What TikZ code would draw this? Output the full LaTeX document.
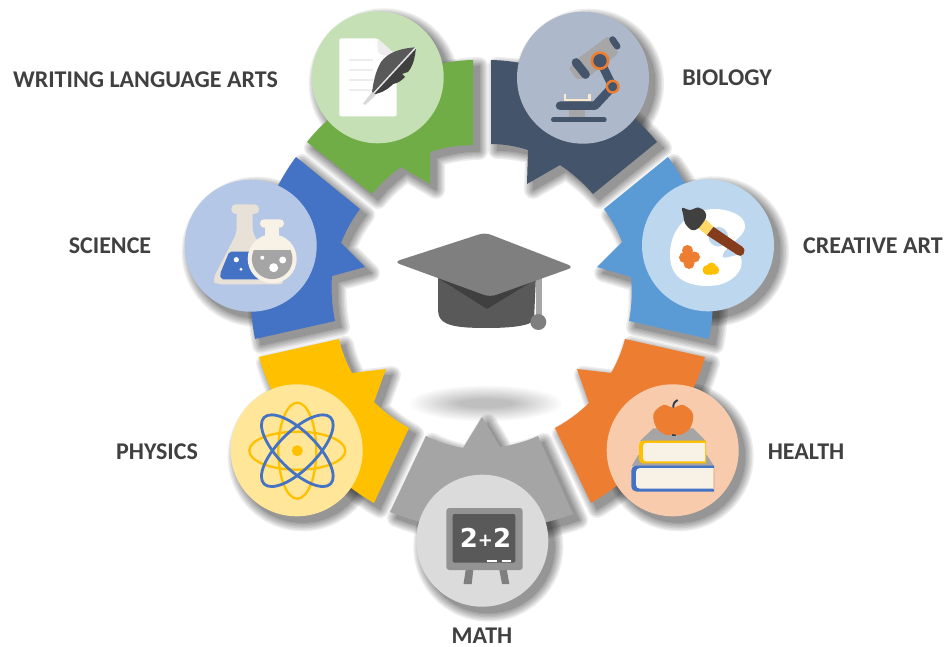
\documentclass[tikz,border=0pt]{standalone}
\usepackage{fontspec}
\setmainfont{Carlito}
\newfontfamily\chalk{DejaVu Sans}
\definecolor{cGreen}{HTML}{70AD47}\definecolor{lGreen}{HTML}{C5E0B4}
\definecolor{cNavy}{HTML}{44546A}\definecolor{lNavy}{HTML}{ADB9CA}
\definecolor{cBlue}{HTML}{4472C4}\definecolor{lBlue}{HTML}{B4C7E7}
\definecolor{cSky}{HTML}{5B9BD5}\definecolor{lSky}{HTML}{BDD7EE}
\definecolor{cOrange}{HTML}{ED7D31}\definecolor{lOrange}{HTML}{F8CBAD}
\definecolor{cGrey}{HTML}{A5A5A5}\definecolor{lGrey}{HTML}{DBDBDB}
\definecolor{cGold}{HTML}{FFC000}\definecolor{lGold}{HTML}{FFE699}
\definecolor{cream}{HTML}{F7F1E6}\definecolor{flask}{HTML}{E7E1D7}
\definecolor{labelc}{HTML}{404040}
\definecolor{g59}{HTML}{595959}\definecolor{g40}{HTML}{404040}
\definecolor{gA6}{HTML}{A6A6A6}\definecolor{g7F}{HTML}{7F7F7F}
\definecolor{gED}{HTML}{EDEDED}\definecolor{gE7}{HTML}{E7E6E6}
\definecolor{gD9}{HTML}{D9D9D9}\definecolor{g93}{HTML}{939393}
\definecolor{slide}{HTML}{FBE9CF}\definecolor{brownh}{HTML}{843C1C}
\definecolor{ferrule}{HTML}{FFD966}\definecolor{stem}{HTML}{333F50}
\tikzset{
  lab/.style={font=\fontsize{24}{26}\bfseries\selectfont,text=labelc,inner sep=0pt},
  bl/.style={bend left=#1,looseness=.85},
  br/.style={bend right=#1,looseness=.85}
}
\newcommand\softshadow[1]{\foreach \w in {18,15,12,9,6,3,0}{%
  \begin{scope}[transparency group,opacity=.07,shift={(6,6)}]
  \path[fill=black,draw=black,line width=\w pt,line join=round] #1;
  \end{scope}}}
\newcommand\segm[2]{\softshadow{#2}\fill[#1] #2;}
\def\pGreen{(473,60) to[br=25] (307,142) -- (372,194) to[bl=8] (401,167) -- (430,184) -- (430,152) to[bl=9] (473,145) -- cycle}
\def\pNavy{(491,60) to[bl=25] (657,142) -- (593,194) to[br=8] (560,165) -- (527,184) -- (528,150) to[br=9] (491,144) -- cycle}
\def\pBlue{(296,157) to[br=24] (255,339) -- (335,321) to[bl=8] (332,276) -- (365,267) -- (341,243) to[bl=8] (360,209) -- cycle}
\def\pSky{(668,157) -- (604,209) to[bl=8] (622,242) -- (597,267) -- (631,277) to[bl=8] (629,321) -- (709,339) to[br=24] (668,157) -- cycle}
\def\pOrange{(625,339) -- (705,357) to[bl=22] (591,503) -- (555,428) to[br=8] (589,403) -- (577,369) -- (611,373) to[br=8] (625,339) -- cycle}
\def\pGrey{(482,417) -- (500,447) to[br=8] (538,436) -- (573,514) to[bl=21] (390,512) -- (426,436) to[br=8] (463,448) -- cycle}
\def\pGold{(339,339) to[br=8] (352,373) -- (386,369) -- (374,402) to[br=8] (409,428) -- (374,503) to[bl=22] (259,357) -- cycle}
\begin{document}
\begin{tikzpicture}[x=1pt,y=-1pt]
\useasboundingbox (0,0) rectangle (946,647);
\fill[white] (0,0) rectangle (946,647);
% circle shadows lie beneath the segments
\softshadow{(377.7,77.3) circle[radius=66]}
\softshadow{(583,77.7) circle[radius=66]}
\softshadow{(250.7,245.7) circle[radius=66]}
\softshadow{(708,245.3) circle[radius=66]}
\softshadow{(672.7,450.3) circle[radius=66]}
\softshadow{(482.3,540.7) circle[radius=66]}
\softshadow{(296.7,450.3) circle[radius=66]}
% hat shadow
\foreach \i in {0,...,15}{
  \fill[black,opacity=.016] (486,403.5) ellipse[x radius={76-\i*3.2},y radius={18-\i*0.9}];
}
% segments
\segm{cGreen}{\pGreen}
\segm{cNavy}{\pNavy}
\segm{cBlue}{\pBlue}
\segm{cSky}{\pSky}
\segm{cOrange}{\pOrange}
\segm{cGrey}{\pGrey}
\segm{cGold}{\pGold}
% discs
\fill[lGreen] (377.7,77.3) circle[radius=66];
\fill[lNavy] (583,77.7) circle[radius=66];
\fill[lBlue] (250.7,245.7) circle[radius=66];
\fill[lSky] (708,245.3) circle[radius=66];
\fill[lOrange] (672.7,450.3) circle[radius=66];
\fill[lGrey] (482.3,540.7) circle[radius=66];
\fill[lGold] (296.7,450.3) circle[radius=66];
% hat
\fill[g59] (438,276) -- (536,276) -- (534,320) .. controls (530,326) and (510,328) .. (487,328) .. controls (465,328) and (445,327) .. (440,318) .. controls (438,315) and (438,310) .. (438,305) -- cycle;
\fill[g40] (438,278) -- (487,309) -- (536,279) -- (536,270) -- (438,270) -- cycle;
\fill[gA6] (536,270) rectangle (541.5,318);
\fill[g7F] (538.3,322) circle[radius=8];
\fill[g7F,rounded corners=6pt] (394,262) -- (485,232.5) -- (574,267) -- (490,297) -- cycle;
% writing icon
\fill[white,rounded corners=2pt] (339.3,38.3) -- (377.3,38.3) -- (396.7,56.7) -- (396.7,116.3) -- (339.3,116.3) -- cycle;
\fill[gED] (377.5,38.3) -- (377.5,50) .. controls (378,54) and (382,55.5) .. (386,55.5) -- (396.7,55.5) -- cycle;
\foreach \y in {60,70,80,90} \draw[gED,line width=2pt] (349.3,\y) -- (373,\y);
\fill[g59] (416,47.3) .. controls (402,48) and (388,52) .. (381,62) .. controls (375,72) and (373,84) .. (371.7,95) -- (376,92) -- (416,47.3);
\fill[g40] (416,47.3) .. controls (415,58) and (413,66) .. (408,72) -- (402,74) -- (405,77) .. controls (401,81) and (398,83) .. (393,84) -- (391,86) .. controls (387,90) and (381,93) .. (371.7,95) -- (373,92) -- cycle;
\draw[gE7,line width=1.5pt] (416,47.3) -- (372,95);
\fill[gD9] (372,92) -- (376,95) -- (365,105) -- (363,103.5) -- cycle;
% microscope
\fill[gA6] (569,99.9) rectangle (585,118);
\draw[slide,line width=2.3pt] (565.3,94) -- (565.3,100) -- (589.5,100) -- (589.5,94);
\fill[gA6,rounded corners=1.5pt] (608.3,36) -- (618.3,53.3) -- (586.7,78.3) -- (576.7,79.3) -- (569,68.3) -- (578.3,58.3) -- cycle;
\draw[cNavy,line width=8.7pt,line cap=round] (576,62.5) -- (585.5,74.5);
\draw[cNavy,line width=6.5pt,line cap=round] (612.5,39.5) -- (617.2,46.3);
\draw[cNavy,line width=8.5pt,line cap=round,line join=round] (600,60.7) -- (612.7,86.7) -- (595,105.7) -- (560,105.7);
\draw[cNavy,line width=5pt,line cap=round] (553.5,119.8) -- (604.2,119.8);
\filldraw[fill=cNavy,draw=cOrange,line width=2.6pt] (600,60.7) circle[radius=8.1];
\filldraw[fill=cNavy,draw=cOrange,line width=2.4pt] (612.7,86.7) circle[radius=5.8];
% flasks
\fill[flask,rounded corners=4.5pt] (231.3,204.3) rectangle (259,214);
\fill[flask,rounded corners=5pt] (236.7,210) -- (252.7,210) -- (252.7,233) -- (285,284.3) -- (216,284.3) -- (212.5,280) -- (236.7,233) -- cycle;
\fill[cBlue,rounded corners=2pt] (229.3,251.7) -- (256,251.7) -- (270,279.3) -- (221,279.3) -- (220,274) -- cycle;
\fill[white] (236.3,259.7) circle[radius=2.6];
\fill[white] (241,269.3) circle[radius=1.6];
\fill[cream,rounded corners=4pt] (260,219.3) rectangle (284,227.7);
\fill[cream] (265,225) rectangle (279,240);
\fill[cream] (272.2,258.8) circle[radius=24.5];
\begin{scope}
\clip (240,251) rectangle (305,290);
\fill[cGrey] (272.2,258.8) circle[radius=20.3];
\end{scope}
\fill[white] (282.7,260) circle[radius=3.5];
\fill[white] (273.7,267.7) circle[radius=4.5];
\fill[white] (262.3,257.7) circle[radius=2];
% palette
\fill[white] (715,209) .. controls (728,209) and (745,215) .. (745,226) .. controls (745,235) and (735,240) .. (730,245) .. controls (726,249) and (722,254) .. (722.5,257) .. controls (723,259) and (733,256) .. (739,254.5) .. controls (742,258) and (742,262) .. (741,267) .. controls (738,276) and (730,281) .. (722,284) .. controls (712,287) and (695,287) .. (684,281) .. controls (673,275) and (670,265) .. (670,255) .. controls (670,235) and (680,222) .. (692,215) .. controls (698,211) and (707,209) .. (715,209) -- cycle;
\fill[lSky] (718.3,236.7) circle[radius=9.8];
\foreach \p/\r in {(687.5,250.5)/5.5,(694.5,257)/5.5,(684.5,257.5)/5.5,(689,263.5)/5.5,(689,257)/6} \fill[cOrange] \p circle[radius=\r];
\foreach \p/\r in {(707.5,270)/5,(711.5,267.5)/5,(714.5,270)/4.7,(711,271)/4} \fill[cGold] \p circle[radius=\r];
\fill[brownh] (713.3,226.7) -- (742,246.5) .. controls (745,248.5) and (745,252) .. (743.5,254) .. controls (742,256) and (739.5,256.5) .. (737.5,255) -- (706.7,235) -- cycle;
\fill[ferrule] (705.7,219.3) -- (713.3,226.7) -- (706.7,235) -- (698.3,228.3) -- cycle;
\fill[g40] plot[smooth cycle,tension=.55] coordinates {(682.3,208) (690,210) (698.3,207.5) (705,211.7) (705.7,218.3) (698.3,228.3) (691.7,230) (685,223.3) (683.3,215)};
% books and apple
\fill[cGrey] (653.3,428.3) -- (693.3,428.3) -- (705.7,441) -- (640,441) -- cycle;
\fill[cGrey] (638.3,455) -- (706.7,455) -- (714,466) -- (631.7,466) -- cycle;
\fill[cGold] (706,440.7) [rounded corners=4pt] -- (639,440.7) -- (639,463.3) [sharp corners] -- (706,463.3) -- cycle;
\fill[cream] (705,443) [rounded corners=3pt] -- (643,443) -- (643,461.3) [sharp corners] -- (705,461.3) -- cycle;
\fill[cBlue] (714,465.5) [rounded corners=5pt] -- (631.3,465.5) -- (631.3,491.5) [sharp corners] -- (714,491.5) -- cycle;
\fill[cream] (712.8,468) [rounded corners=4pt] -- (636,468) -- (636,488.7) [sharp corners] -- (712.8,488.7) -- cycle;
\fill[lOrange] (712.8,468) rectangle (714,488.7);
\draw[stem,line width=2pt] (673.3,409) .. controls (673,404) and (674,402) .. (677.7,400);
\draw[stem,line width=2pt] (672,435.3) -- (675.5,435.3);
\fill[cOrange] plot[smooth cycle,tension=.6] coordinates {(673.3,407.7) (683.3,405) (693,414) (690,428.3) (680,435) (673.3,434) (666.7,435) (656.7,428.3) (653.5,414) (663.3,405)};
% chalkboard
\fill[g7F] (466,568) -- (473.5,568) -- (471.7,584) -- (463.5,584) -- cycle;
\fill[g7F] (499,568) -- (506.5,568) -- (509.3,584) -- (502,584) -- cycle;
\fill[g93,rounded corners=3pt] (446.3,508) rectangle (522.7,570);
\fill[g59,rounded corners=2pt] (452.7,514) rectangle (515.3,562.7);
\node[inner sep=0pt,text=white,font=\fontsize{26}{28}\chalk\bfseries\selectfont] (sum) at (485.5,538) {2\raisebox{1pt}{\fontsize{18}{20}\selectfont +}2};
\draw[white,line width=2.5pt] (486.7,561) -- (496.7,561);
\draw[white,line width=2.5pt] (501.7,561) -- (511,561);
% atom
\begin{scope}[shift={(297.3,450.7)}]
\draw[cGold,line width=2.3pt] (0,0) ellipse[x radius=48,y radius=19];
\draw[cGold,line width=2.3pt] (0,0) ellipse[x radius=19,y radius=48];
\draw[cBlue,line width=2.8pt,rotate=45] (0,0) ellipse[x radius=47,y radius=19];
\draw[cBlue,line width=2.8pt,rotate=-45] (0,0) ellipse[x radius=47,y radius=19];
\fill[cGold] (0,0) circle[radius=5.5];
\end{scope}
% labels
\node[lab] (writing) at (145.5,80) {WRITING LANGUAGE ARTS};
\node[lab] (biology) at (727,78) {BIOLOGY};
\node[lab] (art) at (873,246) {CREATIVE ART};
\node[lab] (science) at (110,246) {SCIENCE};
\node[lab] (physics) at (157,452) {PHYSICS};
\node[lab] (health) at (806,452) {HEALTH};
\node[lab] (math) at (482,635.5) {MATH};
\end{tikzpicture}
\end{document}
